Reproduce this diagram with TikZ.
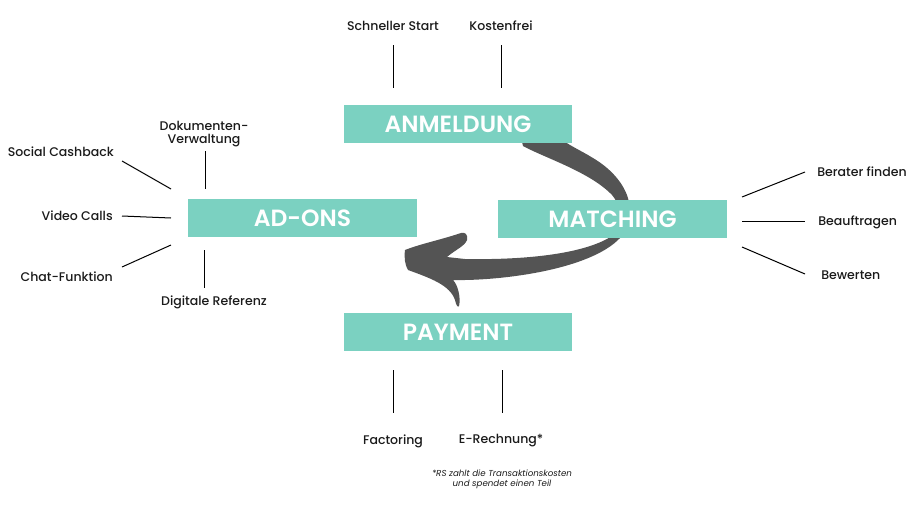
\documentclass[tikz,border=0pt]{standalone}
\usepackage{fontspec}
\setmainfont{Poppins}
\newfontfamily\titlefont{Poppins SemiBold}
\newfontfamily\labelfont{Poppins Medium}
\definecolor{mint}{HTML}{7BD1C1}
\definecolor{arrowgray}{HTML}{545454}
\definecolor{ink}{HTML}{1A1A1A}
\begin{document}
\begin{tikzpicture}[x=0.75pt,y=-0.75pt,
  stagebox/.style={fill=mint,text=white,inner sep=0pt,
    minimum height=38*0.75pt,font=\fontsize{17.6}{20}\selectfont\titlefont},
  feature/.style={text=ink,inner sep=0pt,font=\fontsize{9.4}{11}\selectfont\labelfont},
  tick/.style={draw=black,line width=0.75pt},
  footnote/.style={text=ink,inner sep=0pt,align=center,font=\fontsize{6.5}{7.4}\selectfont\itshape}]
\useasboundingbox (0,0) rectangle (910,504);

% curved process arrow, drawn first so the boxes sit on top of it
\fill[arrowgray] (521,138) -- (523,146)
  .. controls (545,158) and (590,172) .. (612,195)
  .. controls (626,212) and (622,232) .. (605,240)
  .. controls (575,255) and (520,260) .. (465,259)
  -- (447,257)
  .. controls (455,250) and (465,246) .. (467,240)
  .. controls (468,234) and (465,232) .. (461,233)
  .. controls (440,240) and (420,244) .. (405,250)
  .. controls (404,258) and (405,265) .. (408,270)
  .. controls (430,278) and (450,285) .. (455,300)
  .. controls (456,305) and (458,308) .. (459,306)
  .. controls (461,298) and (458,285) .. (453,280)
  .. controls (500,281) and (590,270) .. (620,238)
  .. controls (640,215) and (630,180) .. (593,158)
  .. controls (580,150) and (568,145) .. (560,138)
  -- cycle;

% stages
\node[stagebox,minimum width=228*0.75pt] (anm) at (458,124) {ANMELDUNG};
\node[stagebox,minimum width=229*0.75pt] (mat) at (612.5,219) {MATCHING};
\node[stagebox,minimum width=229*0.75pt] (add) at (302.5,218) {AD-ONS};
\node[stagebox,minimum width=228*0.75pt] (pay) at (458,332) {PAYMENT};

% features of ANMELDUNG
\node[feature] (schnell) at (393,26) {Schneller Start};
\node[feature] (kosten) at (501,26) {Kostenfrei};
\coordinate (s1) at (393,45); \coordinate (s2) at (393,88);
\coordinate (k1) at (501,45); \coordinate (k2) at (501,88);
\draw[tick] (s1) -- (s2);
\draw[tick] (k1) -- (k2);

% features of AD-ONS
\node[feature,align=center] (doku) at (204,134) {Dokumenten-\\[-1.5pt]Verwaltung};
\node[feature,anchor=east] (social) at (114,152) {Social Cashback};
\node[feature,anchor=east] (video) at (113,216) {Video Calls};
\node[feature,anchor=east] (chat) at (113,277) {Chat-Funktion};
\node[feature] (digi) at (214,302) {Digitale Referenz};
\coordinate (d1) at (205,151); \coordinate (d2) at (205,189);
\coordinate (sc1) at (122,161); \coordinate (sc2) at (171,189);
\coordinate (v1) at (122,216); \coordinate (v2) at (171,218);
\coordinate (c1) at (122,267); \coordinate (c2) at (171,245);
\coordinate (r1) at (204,250); \coordinate (r2) at (204,288);
\draw[tick] (d1) -- (d2);
\draw[tick] (sc1) -- (sc2);
\draw[tick] (v1) -- (v2);
\draw[tick] (c1) -- (c2);
\draw[tick] (r1) -- (r2);

% features of MATCHING
\node[feature,anchor=west] (berater) at (817,172) {Berater finden};
\node[feature,anchor=west] (beauf) at (818,222) {Beauftragen};
\node[feature,anchor=west] (bew) at (821,275) {Bewerten};
\coordinate (b1) at (742,197); \coordinate (b2) at (805,172);
\coordinate (a1) at (742,221); \coordinate (a2) at (805,221);
\coordinate (w1) at (742,247); \coordinate (w2) at (805,274);
\draw[tick] (b1) -- (b2);
\draw[tick] (a1) -- (a2);
\draw[tick] (w1) -- (w2);

% features of PAYMENT
\node[feature] (fact) at (393,441) {Factoring};
\node[feature] (erech) at (501,441) {E-Rechnung*};
\coordinate (f1) at (393,370); \coordinate (f2) at (393,413);
\coordinate (e1) at (502,370); \coordinate (e2) at (502,413);
\draw[tick] (f1) -- (f2);
\draw[tick] (e1) -- (e2);

\node[footnote] (note) at (502,479.5) {*RS zahlt die Transaktionskosten\\und spendet einen Teil};
\end{tikzpicture}
\end{document}
